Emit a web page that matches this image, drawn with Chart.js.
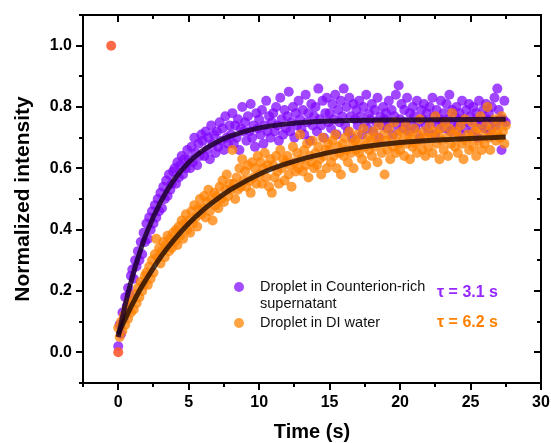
<!DOCTYPE html>
<html>
<head>
<meta charset="utf-8">
<script src="https://cdn.jsdelivr.net/npm/chart.js@4"></script>
<style>
  body { margin: 0; background: #fff; }
  #myChart { display: block; }
</style>
</head>
<body>
<canvas id="myChart" width="551" height="443"></canvas>
<script>
/* tiempos de los cuadros (s) */
const timeS = [
  0.0, 0.1, 0.2, 0.3, 0.4, 0.5, 0.6, 0.7, 0.8, 0.9,
  1.0, 1.1, 1.2, 1.3, 1.4, 1.5, 1.6, 1.7, 1.8, 1.9,
  2.0, 2.1, 2.2, 2.3, 2.4, 2.5, 2.6, 2.7, 2.8, 2.9,
  3.0, 3.1, 3.2, 3.3, 3.4, 3.5, 3.6, 3.7, 3.8, 3.9,
  4.0, 4.1, 4.2, 4.3, 4.4, 4.5, 4.6, 4.7, 4.8, 4.9,
  5.0, 5.1, 5.2, 5.3, 5.4, 5.5, 5.6, 5.7, 5.8, 5.9,
  6.0, 6.1, 6.2, 6.3, 6.4, 6.5, 6.6, 6.7, 6.8, 6.9,
  7.0, 7.1, 7.2, 7.3, 7.4, 7.5, 7.6, 7.7, 7.8, 7.9,
  8.0, 8.1, 8.2, 8.3, 8.4, 8.5, 8.6, 8.7, 8.8, 8.9,
  9.0, 9.1, 9.2, 9.3, 9.4, 9.5, 9.6, 9.7, 9.8, 9.9,
  10.0, 10.1, 10.2, 10.3, 10.4, 10.5, 10.6, 10.7, 10.8, 10.9,
  11.0, 11.1, 11.2, 11.3, 11.4, 11.5, 11.6, 11.7, 11.8, 11.9,
  12.0, 12.1, 12.2, 12.3, 12.4, 12.5, 12.6, 12.7, 12.8, 12.9,
  13.0, 13.1, 13.2, 13.3, 13.4, 13.5, 13.6, 13.7, 13.8, 13.9,
  14.0, 14.1, 14.2, 14.3, 14.4, 14.5, 14.6, 14.7, 14.8, 14.9,
  15.0, 15.1, 15.2, 15.3, 15.4, 15.5, 15.6, 15.7, 15.8, 15.9,
  16.0, 16.1, 16.2, 16.3, 16.4, 16.5, 16.6, 16.7, 16.8, 16.9,
  17.0, 17.1, 17.2, 17.3, 17.4, 17.5, 17.6, 17.7, 17.8, 17.9,
  18.0, 18.1, 18.2, 18.3, 18.4, 18.5, 18.6, 18.7, 18.8, 18.9,
  19.0, 19.1, 19.2, 19.3, 19.4, 19.5, 19.6, 19.7, 19.8, 19.9,
  20.0, 20.1, 20.2, 20.3, 20.4, 20.5, 20.6, 20.7, 20.8, 20.9,
  21.0, 21.1, 21.2, 21.3, 21.4, 21.5, 21.6, 21.7, 21.8, 21.9,
  22.0, 22.1, 22.2, 22.3, 22.4, 22.5, 22.6, 22.7, 22.8, 22.9,
  23.0, 23.1, 23.2, 23.3, 23.4, 23.5, 23.6, 23.7, 23.8, 23.9,
  24.0, 24.1, 24.2, 24.3, 24.4, 24.5, 24.6, 24.7, 24.8, 24.9,
  25.0, 25.1, 25.2, 25.3, 25.4, 25.5, 25.6, 25.7, 25.8, 25.9,
  26.0, 26.1, 26.2, 26.3, 26.4, 26.5, 26.6, 26.7, 26.8, 26.9,
  27.0, 27.1, 27.2, 27.3, 27.4, 27.5
];

/* gota en sobrenadante rico en contraiones */
const purpleY = [
  0.02, 0.09, 0.06, 0.13, 0.11, 0.18, 0.15, 0.21, 0.19, 0.25,
  0.27, 0.24, 0.30, 0.28, 0.33, 0.30, 0.36, 0.32, 0.39, 0.36,
  0.42, 0.37, 0.44, 0.40, 0.46, 0.42, 0.48, 0.44, 0.50, 0.46,
  0.52, 0.47, 0.54, 0.50, 0.56, 0.51, 0.58, 0.53, 0.55, 0.59,
  0.60, 0.55, 0.62, 0.57, 0.61, 0.64, 0.58, 0.63, 0.60, 0.66,
  0.63, 0.60, 0.67, 0.62, 0.70, 0.65, 0.61, 0.68, 0.64, 0.71,
  0.69, 0.64, 0.72, 0.66, 0.70, 0.63, 0.74, 0.68, 0.71, 0.65,
  0.72, 0.67, 0.75, 0.69, 0.73, 0.66, 0.77, 0.70, 0.68, 0.74,
  0.71, 0.78, 0.68, 0.74, 0.70, 0.76, 0.66, 0.73, 0.80, 0.72,
  0.75, 0.69, 0.77, 0.72, 0.81, 0.70, 0.74, 0.67, 0.78, 0.73,
  0.76, 0.71, 0.79, 0.68, 0.74, 0.82, 0.72, 0.77, 0.70, 0.75,
  0.78, 0.72, 0.80, 0.74, 0.69, 0.83, 0.76, 0.71, 0.79, 0.73,
  0.77, 0.85, 0.72, 0.75, 0.80, 0.70, 0.78, 0.74, 0.82, 0.76,
  0.73, 0.79, 0.71, 0.84, 0.75, 0.78, 0.69, 0.81, 0.74, 0.77,
  0.80, 0.72, 0.86, 0.76, 0.74, 0.82, 0.70, 0.78, 0.83, 0.75,
  0.78, 0.73, 0.81, 0.76, 0.84, 0.71, 0.79, 0.75, 0.82, 0.77,
  0.86, 0.74, 0.80, 0.72, 0.83, 0.77, 0.70, 0.81, 0.76, 0.79,
  0.74, 0.82, 0.77, 0.71, 0.80, 0.75, 0.84, 0.73, 0.78, 0.76,
  0.81, 0.72, 0.79, 0.75, 0.83, 0.70, 0.77, 0.74, 0.80, 0.76,
  0.78, 0.73, 0.82, 0.75, 0.79, 0.71, 0.77, 0.84, 0.74, 0.87,
  0.76, 0.81, 0.73, 0.79, 0.75, 0.83, 0.72, 0.78, 0.74, 0.80,
  0.77, 0.73, 0.82, 0.75, 0.70, 0.79, 0.76, 0.81, 0.74, 0.78,
  0.72, 0.80, 0.75, 0.83, 0.77, 0.71, 0.79, 0.74, 0.76, 0.82,
  0.75, 0.78, 0.73, 0.81, 0.76, 0.84, 0.72, 0.79, 0.74, 0.77,
  0.80, 0.74, 0.78, 0.71, 0.82, 0.76, 0.73, 0.79, 0.75, 0.81,
  0.77, 0.72, 0.80, 0.75, 0.78, 0.70, 0.82, 0.76, 0.74, 0.79,
  0.73, 0.81, 0.76, 0.78, 0.72, 0.80, 0.75, 0.83, 0.74, 0.86,
  0.79, 0.76, 0.66, 0.76, 0.82, 0.75
];

/* gota en agua DI */
const orangeY = [
  0.08, 0.05, 0.10, 0.07, 0.12, 0.09, 0.14, 0.11, 0.16, 0.13,
  0.17, 0.14, 0.19, 0.16, 0.21, 0.18, 0.23, 0.20, 0.22, 0.25,
  0.26, 0.22, 0.28, 0.24, 0.30, 0.26, 0.32, 0.37, 0.31, 0.34,
  0.29, 0.33, 0.36, 0.31, 0.35, 0.38, 0.33, 0.37, 0.34, 0.39,
  0.36, 0.40, 0.35, 0.41, 0.38, 0.43, 0.37, 0.42, 0.45, 0.40,
  0.43, 0.39, 0.46, 0.42, 0.48, 0.44, 0.41, 0.47, 0.50, 0.45,
  0.47, 0.51, 0.44, 0.49, 0.53, 0.46, 0.50, 0.43, 0.52, 0.48,
  0.51, 0.47, 0.54, 0.50, 0.56, 0.49, 0.53, 0.58, 0.51, 0.55,
  0.53, 0.66, 0.55, 0.50, 0.57, 0.53, 0.60, 0.54, 0.63, 0.56,
  0.59, 0.54, 0.61, 0.56, 0.52, 0.62, 0.57, 0.60, 0.55, 0.64,
  0.58, 0.62, 0.55, 0.60, 0.65, 0.57, 0.61, 0.54, 0.63, 0.52,
  0.61, 0.57, 0.64, 0.59, 0.55, 0.66, 0.60, 0.63, 0.56, 0.62,
  0.64, 0.58, 0.61, 0.54, 0.67, 0.62, 0.59, 0.65, 0.60, 0.71,
  0.63, 0.59, 0.66, 0.61, 0.68, 0.57, 0.64, 0.62, 0.69, 0.60,
  0.65, 0.61, 0.67, 0.63, 0.58, 0.70, 0.64, 0.66, 0.60, 0.68,
  0.66, 0.62, 0.69, 0.64, 0.71, 0.60, 0.67, 0.65, 0.58, 0.68,
  0.64, 0.70, 0.66, 0.62, 0.72, 0.65, 0.68, 0.60, 0.69, 0.66,
  0.71, 0.65, 0.68, 0.63, 0.73, 0.67, 0.61, 0.70, 0.66, 0.69,
  0.64, 0.72, 0.67, 0.70, 0.62, 0.74, 0.68, 0.65, 0.71, 0.58,
  0.69, 0.66, 0.73, 0.63, 0.70, 0.67, 0.75, 0.65, 0.71, 0.68,
  0.66, 0.72, 0.69, 0.64, 0.74, 0.68, 0.71, 0.63, 0.70, 0.67,
  0.73, 0.68, 0.65, 0.71, 0.76, 0.69, 0.66, 0.72, 0.64, 0.70,
  0.67, 0.74, 0.70, 0.65, 0.72, 0.77, 0.68, 0.71, 0.63, 0.73,
  0.69, 0.66, 0.75, 0.70, 0.64, 0.73, 0.68, 0.78, 0.71, 0.67,
  0.72, 0.65, 0.70, 0.74, 0.68, 0.63, 0.76, 0.69, 0.71, 0.66,
  0.70, 0.75, 0.67, 0.72, 0.64, 0.73, 0.69, 0.77, 0.66, 0.71,
  0.68, 0.74, 0.80, 0.70, 0.66, 0.73, 0.71, 0.76, 0.69, 0.72,
  0.75, 0.70, 0.77, 0.72, 0.68, 0.74
];

/* puntos sueltos (rojo) */
const extraX = [-0.5, 0.0];
const extraY = [1.0, 0.0];

/* ajustes exponenciales */
const fitTimeS   = [0, 0.5, 1, 1.5, 2, 3, 4, 5, 6, 7, 8, 10, 12, 15, 20, 27.5];
const purpleFitY = [0.05, 0.156, 0.246, 0.322, 0.388, 0.490, 0.565, 0.619, 0.658, 0.686, 0.706, 0.732, 0.745, 0.754, 0.758, 0.760];
const orangeFitY = [0.06, 0.110, 0.157, 0.201, 0.239, 0.310, 0.369, 0.420, 0.463, 0.499, 0.531, 0.581, 0.616, 0.652, 0.684, 0.702];

const legendLines = [["Droplet in Counterion-rich", "supernatant"], ["Droplet in DI water"]];
const tauLabels = ["\u03c4 = 3.1 s", "\u03c4 = 6.2 s"];
const xTitle = "Time (s)";
const yTitle = "Normalized intensity";

const PURPLE = "rgba(130, 10, 255, 0.75)";
const ORANGE = "rgba(255, 128, 0, 0.75)";
const FONT = "'Liberation Sans', Arial, sans-serif";

function toPoints(xs, ys) {
    return xs.map((x, i) => ({ x: x, y: ys[i] }));
}

/* marco, marcas y leyenda */
const marco = {
    id: "marco",
    afterDraw(chart) {
        const c = chart.ctx;
        const a = chart.chartArea;
        const sx = chart.scales.x;
        const sy = chart.scales.y;
        const L = Math.round(a.left), R = Math.round(a.right);
        const T = Math.round(a.top), B = Math.round(a.bottom);
        c.save();
        c.globalAlpha = 1;
        c.globalCompositeOperation = "source-over";
        c.fillStyle = "#000";
        // marco
        c.fillRect(L - 1, T - 1, R - L + 2, 2);
        c.fillRect(L - 1, B - 1, R - L + 2, 2);
        c.fillRect(L - 1, T - 1, 2, B - T + 2);
        c.fillRect(R - 1, T - 1, 2, B - T + 2);
        // marcas
        sx.ticks.forEach((t) => {
            const px = Math.round(sx.getPixelForValue(t.value));
            const len = Math.abs(t.value % 5) < 1e-6 ? 7 : 4;
            c.fillRect(px - 1, B, 2, len);
            c.fillRect(px - 1, T, 2, len);
        });
        sy.ticks.forEach((t) => {
            const py = Math.round(sy.getPixelForValue(t.value));
            const len = Math.round(t.value * 10) % 2 === 0 ? 7 : 4;
            c.fillRect(L - len, py - 1, len, 2);
            c.fillRect(R - len, py - 1, len, 2);
        });

        // leyenda
        const colors = ["rgba(140, 30, 255, 0.8)", "rgba(255, 140, 20, 0.8)"];
        const rows = [287, 323];
        c.textBaseline = "middle";
        c.textAlign = "left";
        legendLines.forEach((lines, k) => {
            c.fillStyle = colors[k];
            c.beginPath();
            c.arc(239, rows[k], 5, 0, Math.PI * 2);
            c.fill();
            c.fillStyle = "#111";
            c.font = "14.5px " + FONT;
            lines.forEach((ln, j) => {
                c.fillText(ln, 260, rows[k] + j * 17);
            });
        });
        c.font = "bold 16px " + FONT;
        c.fillStyle = "rgb(150, 40, 255)";
        c.fillText(tauLabels[0], 437, 293);
        c.fillStyle = "rgb(255, 128, 0)";
        c.fillText(tauLabels[1], 437, 323);
        c.restore();
    }
};

const config = {
    type: "scatter",
    data: {
        datasets: [
            {
                label: "extra",
                data: toPoints(extraX, extraY),
                backgroundColor: "rgba(255, 90, 50, 0.9)",
                pointRadius: 5,
                pointBorderWidth: 0,
                order: 0
            },
            {
                label: "fit purple",
                data: toPoints(fitTimeS, purpleFitY),
                showLine: true,
                borderColor: "rgba(25, 0, 35, 0.82)",
                borderWidth: 5,
                pointRadius: 0,
                cubicInterpolationMode: "monotone",
                order: 1
            },
            {
                label: "fit orange",
                data: toPoints(fitTimeS, orangeFitY),
                showLine: true,
                borderColor: "rgba(30, 10, 0, 0.8)",
                borderWidth: 5,
                pointRadius: 0,
                cubicInterpolationMode: "monotone",
                order: 1
            },
            {
                label: legendLines[1].join(" "),
                data: toPoints(timeS, orangeY),
                backgroundColor: ORANGE,
                pointRadius: 5,
                pointBorderWidth: 0,
                order: 2
            },
            {
                label: legendLines[0].join(" "),
                data: toPoints(timeS, purpleY),
                backgroundColor: PURPLE,
                pointRadius: 5,
                pointBorderWidth: 0,
                order: 3
            }
        ]
    },
    options: {
        responsive: false,
        animation: false,
        devicePixelRatio: 1,
        layout: { padding: { top: 15, right: 10, left: 0, bottom: 0 } },
        plugins: {
            legend: { display: false },
            tooltip: { enabled: false }
        },
        scales: {
            x: {
                type: "linear",
                min: -2.5,
                max: 30,
                grid: { display: false, drawTicks: false },
                border: { display: false },
                ticks: {
                    stepSize: 2.5,
                    autoSkip: false,
                    maxRotation: 0,
                    padding: 10,
                    color: "#000",
                    font: { family: FONT, size: 16, weight: "bold" },
                    callback: (v) => (v >= 0 && Math.abs(v % 5) < 1e-6) ? String(v) : ""
                },
                title: {
                    display: true,
                    text: xTitle,
                    color: "#000",
                    font: { family: FONT, size: 20, weight: "bold" },
                    padding: { top: 0, bottom: -1 }
                },
                afterFit: (s) => {
                    s.height = 60;
                    s.paddingLeft = 0;
                    s.paddingRight = 0;
                }
            },
            y: {
                type: "linear",
                min: -0.1,
                max: 1.1,
                grid: { display: false, drawTicks: false },
                border: { display: false },
                ticks: {
                    stepSize: 0.1,
                    autoSkip: false,
                    padding: 11,
                    color: "#000",
                    font: { family: FONT, size: 16, weight: "bold" },
                    callback: (v) => {
                        const n = Math.round(v * 10);
                        return (n >= 0 && n <= 10 && n % 2 === 0) ? (n / 10).toFixed(1) : "";
                    }
                },
                title: {
                    display: true,
                    text: yTitle,
                    color: "#000",
                    font: { family: FONT, size: 21, weight: "bold" },
                    padding: { top: 11, bottom: 0 }
                },
                afterFit: (s) => {
                    s.width = 83;
                    s.paddingTop = 0;
                    s.paddingBottom = 0;
                }
            }
        }
    },
    plugins: [marco]
};

const ctx = document.getElementById("myChart").getContext("2d");
const myChart = new Chart(ctx, config);
</script>
</body>
</html>
